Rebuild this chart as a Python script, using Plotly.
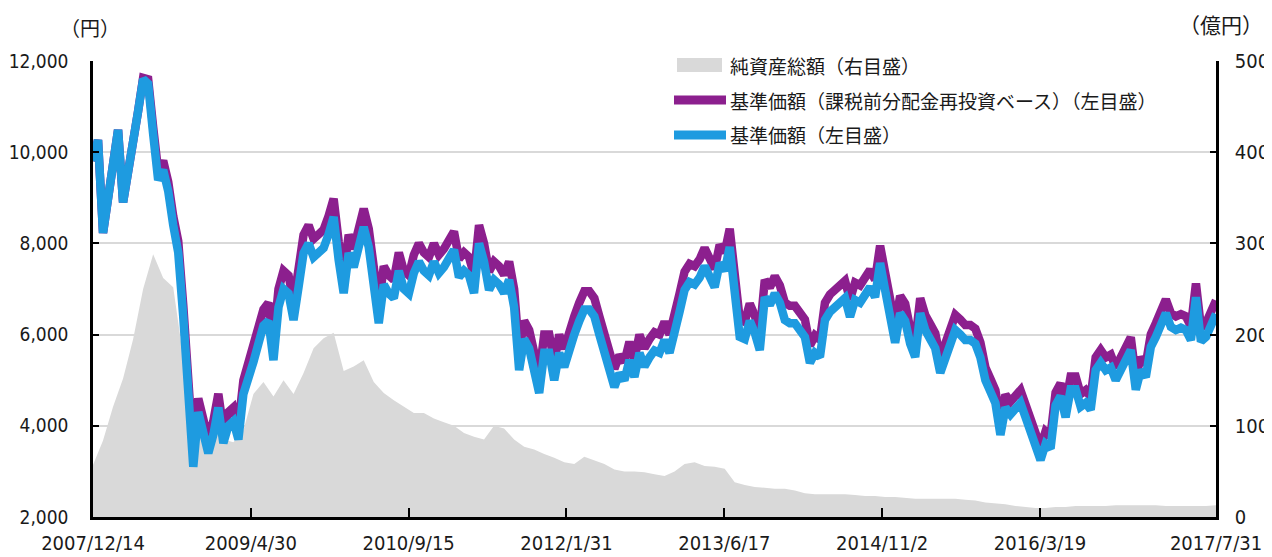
import plotly.graph_objects as go
import pandas as pd

# ---- data ----
start_date = "2007-12-14"
end_date = "2017-10-01"

# 基準価額 (円), evenly spaced samples from start to end
nav = [
    9800, 10270, 8230, 9100, 9830, 10490, 8900, 9500, 10270, 10900,
    11600, 11500, 10400, 9390, 9610, 9150, 8400, 7800, 6400, 4350,
    3100, 4300, 3800, 3400, 3800, 4400, 3620, 4000, 4100, 3700,
    4700, 5000, 5400, 5800, 6200, 6300, 5440, 6600, 7000, 6900,
    6320, 7040, 7790, 8000, 7700, 7800, 7900, 8200, 8580, 7640,
    6910, 7790, 7480, 7920, 8360, 7920, 7040, 6250, 7100, 6900,
    6800, 7400, 7000, 6900, 7350, 7600, 7400, 7300, 7600, 7350,
    7480, 7650, 7860, 7260, 7400, 7300, 6910, 8000, 7600, 6980,
    7200, 7100, 6910, 7200, 6600, 5220, 5900, 5700, 5100, 4720,
    5600, 5600, 5000, 5600, 5290, 5700, 6000, 6300, 6550, 6550,
    6400, 6000, 5600, 5100, 4850, 5150, 5000, 5440, 5070, 5600,
    5300, 5500, 5650, 5600, 5880, 5600, 6000, 6500, 6980, 7150,
    7100, 7250, 7500, 7300, 7040, 7570, 7400, 7920, 6900, 5950,
    5900, 6300, 6040, 5660, 6820, 6650, 6900, 6700, 6320, 6250,
    6250, 6100, 5950, 5380, 5600, 5510, 6320, 6500, 6600, 6700,
    6800, 6390, 6760, 6700, 6850, 7040, 6820, 7570, 6980, 6300,
    5820, 6470, 6300, 5800, 5510, 6470, 6100, 5900, 5700, 5160,
    5510, 5900, 6100, 6000, 5880, 5880, 5800, 5500, 5000, 4750,
    4500, 3800, 4400, 4250, 4350, 4500, 4190, 3900, 3600, 3250,
    3600, 3500, 4450, 4650, 4190, 4800, 4800, 4420, 4500, 4350,
    5220, 5380, 5220, 5280, 5000, 5220, 5510, 5660, 4790, 5220,
    5070, 5730, 5950, 6250, 6470, 6170, 6100, 6150, 6100, 5880,
    6820, 5850, 5950, 6200, 6450,
]

# 基準価額（課税前分配金再投資ベース）(円)
nav_reinvested = [
    9800, 10270, 8230, 9100, 9830, 10490, 8900, 9500, 10270, 10900,
    11630, 11600, 10550, 9590, 9810, 9350, 8600, 8050, 6650, 4600,
    3400, 4600, 4100, 3700, 4100, 4700, 3920, 4300, 4400, 4000,
    5000, 5350, 5750, 6150, 6550, 6700, 5840, 7000, 7400, 7300,
    6720, 7440, 8190, 8400, 8100, 8200, 8300, 8600, 8980, 8040,
    7310, 8190, 7880, 8320, 8760, 8320, 7440, 6650, 7500, 7300,
    7200, 7800, 7400, 7300, 7750, 8000, 7800, 7700, 8000, 7750,
    7880, 8050, 8260, 7660, 7800, 7700, 7310, 8400, 8000, 7380,
    7600, 7500, 7310, 7600, 7000, 5620, 6300, 6100, 5500, 5120,
    6000, 6000, 5400, 6000, 5690, 6100, 6400, 6700, 6950, 6950,
    6800, 6400, 6000, 5500, 5250, 5550, 5400, 5840, 5470, 6000,
    5700, 5900, 6050, 6000, 6280, 6000, 6400, 6900, 7380, 7550,
    7500, 7650, 7900, 7700, 7440, 7970, 7800, 8320, 7300, 6330,
    6280, 6680, 6420, 6040, 7200, 7030, 7280, 7080, 6700, 6630,
    6630, 6480, 6330, 5760, 5980, 5890, 6700, 6880, 6980, 7080,
    7180, 6770, 7140, 7080, 7230, 7420, 7200, 7950, 7360, 6680,
    6200, 6850, 6680, 6130, 5840, 6800, 6430, 6230, 6030, 5490,
    5840, 6230, 6430, 6330, 6210, 6210, 6130, 5830, 5280, 5030,
    4780, 4080, 4680, 4530, 4630, 4780, 4470, 4180, 3880, 3530,
    3880, 3780, 4730, 4930, 4470, 5080, 5080, 4700, 4780, 4630,
    5500, 5660, 5500, 5560, 5280, 5500, 5790, 5940, 5070, 5500,
    5350, 6010, 6250, 6550, 6770, 6470, 6400, 6450, 6400, 6180,
    7120, 6150, 6250, 6500, 6750,
]

# 純資産総額 (億円)
net_assets = [
    57, 84, 121, 152, 195, 250, 288, 262, 252, 175,
    115, 112, 95, 85, 82, 95, 135, 148, 132, 150,
    135, 158, 185, 196, 202, 160, 165, 172, 148, 136,
    128, 121, 114, 114, 108, 104, 100, 92, 88, 85,
    100, 97, 85, 77, 74, 69, 65, 60, 58, 66,
    62, 58, 52, 50, 50, 49, 47, 45, 50, 58,
    60, 56, 55, 53, 38, 35, 33, 32, 31, 31,
    29, 26, 25, 25, 25, 25, 24, 23, 23, 22,
    22, 21, 20, 20, 20, 20, 20, 19, 18, 16,
    15, 14, 12, 11, 10, 10, 11, 11, 12, 12,
    12, 12, 13, 13, 13, 13, 13, 12, 12, 12,
    12, 12, 13,
]

tick_dates = ["2007-12-14", "2009-04-30", "2010-09-15", "2012-01-31",
              "2013-06-17", "2014-11-02", "2016-03-19", end_date]
tick_labels = ["2007/12/14", "2009/4/30", "2010/9/15", "2012/1/31",
               "2013/6/17", "2014/11/2", "2016/3/19", "2017/7/31"]

legend_labels = ["純資産総額（右目盛）",
                 "基準価額（課税前分配金再投資ベース）（左目盛）",
                 "基準価額（左目盛）"]

# ---- styling ----
GRAY = "#d9d9d9"
PURPLE = "#8c1f8e"
BLUE = "#1e9be0"
TXT = "#1a1a1a"
NUM_FONT = "Liberation Sans Narrow, DejaVu Sans Condensed, Arial Narrow, sans-serif"
JP_FONT = "Noto Sans CJK JP, sans-serif"

# the page body has an 8px margin, so the figure is 8px smaller than the window
OFF = 8
W, H = 1272 - OFF, 557 - OFF
L, R, T, B = 93 - OFF, 56, 61 - OFF, 40
PW, PH = W - L - R, H - T - B


def px(xp):  # window pixel x -> paper fraction
    return (xp - OFF - L) / PW


def py(yp):  # window pixel y -> paper fraction
    return (H - B - (yp - OFF)) / PH


line_dates = pd.date_range(start_date, end_date, periods=len(nav))
area_dates = pd.date_range(start_date, end_date, periods=len(net_assets))

fig = go.Figure()
fig.add_trace(go.Scatter(
    x=area_dates, y=net_assets, name=legend_labels[0], yaxis="y",
    mode="lines", line=dict(width=0, color=GRAY), fill="tozeroy",
    fillcolor=GRAY, showlegend=False, hoverinfo="skip"))
fig.add_trace(go.Scatter(
    x=line_dates, y=nav_reinvested, name=legend_labels[1], yaxis="y2",
    mode="lines", line=dict(width=8.5, color=PURPLE), showlegend=False))
fig.add_trace(go.Scatter(
    x=line_dates, y=nav, name=legend_labels[2], yaxis="y2",
    mode="lines", line=dict(width=8.5, color=BLUE), showlegend=False))

fig.update_layout(
    width=W, height=H, autosize=False,
    margin=dict(l=L, r=R, t=T, b=B, pad=0, autoexpand=False),
    paper_bgcolor="white", plot_bgcolor="white",
    showlegend=False,
    xaxis=dict(
        type="date", range=[start_date, end_date], automargin=False,
        tickmode="array", tickvals=tick_dates, ticktext=tick_labels,
        ticks="inside", ticklen=9, tickwidth=2, tickcolor="black",
        showline=True, linecolor="black", linewidth=2.5,
        showgrid=False, zeroline=False,
        tickfont=dict(family=NUM_FONT, size=20, color=TXT),
        ticklabelstandoff=6,
    ),
    yaxis=dict(  # right axis: 純資産総額
        side="right", range=[0, 500], tickvals=[0, 100, 200, 300, 400, 500],
        automargin=False,
        ticks="inside", ticklen=6, tickwidth=2, tickcolor="black",
        showline=True, linecolor="black", linewidth=2.5,
        showgrid=True, gridcolor=GRAY, gridwidth=2, zeroline=False,
        tickfont=dict(family=NUM_FONT, size=20, color=TXT),
        ticklabelstandoff=12,
    ),
    yaxis2=dict(  # left axis: 基準価額
        overlaying="y", side="left", range=[2000, 12000], automargin=False,
        tickvals=[2000, 4000, 6000, 8000, 10000, 12000], tickformat=",",
        ticks="inside", ticklen=6, tickwidth=2, tickcolor="black",
        showline=True, linecolor="black", linewidth=2.5,
        showgrid=False, zeroline=False,
        tickfont=dict(family=NUM_FONT, size=19, color=TXT),
        ticklabelstandoff=18,
    ),
)

# legend drawn as shapes + text
shapes = [
    dict(type="rect", xref="paper", yref="paper",
         x0=px(677), x1=px(722), y0=py(72), y1=py(58),
         fillcolor=GRAY, line=dict(width=0), layer="above"),
    dict(type="line", xref="paper", yref="paper",
         x0=px(674), x1=px(726), y0=py(100), y1=py(100),
         line=dict(color=PURPLE, width=9), layer="above"),
    dict(type="line", xref="paper", yref="paper",
         x0=px(674), x1=px(726), y0=py(135), y1=py(135),
         line=dict(color=BLUE, width=9), layer="above"),
]
fig.update_layout(shapes=shapes)

for lab, yy in zip(legend_labels, [65, 100, 135]):
    fig.add_annotation(text=lab, xref="paper", yref="paper",
                       x=px(728), y=py(yy), xanchor="left", yanchor="middle",
                       showarrow=False,
                       font=dict(family=JP_FONT, size=19, color=TXT))

fig.add_annotation(text="（円）", xref="paper", yref="paper",
                   x=px(90), y=py(27), xanchor="center", yanchor="middle",
                   showarrow=False, font=dict(family=JP_FONT, size=20, color=TXT))
fig.add_annotation(text="（億円）", xref="paper", yref="paper",
                   x=px(1221), y=py(24), xanchor="center", yanchor="middle",
                   showarrow=False, font=dict(family=JP_FONT, size=21, color=TXT))

fig.write_html("out.html")
